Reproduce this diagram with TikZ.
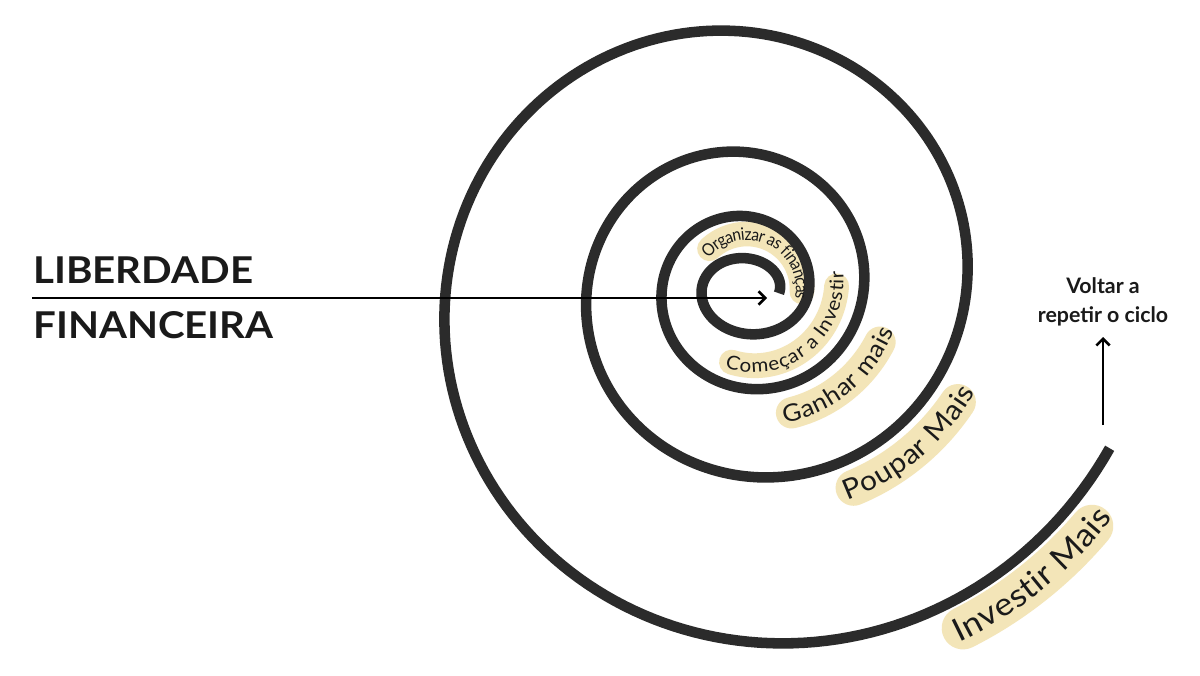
\documentclass[tikz,border=0pt]{standalone}
\usepackage{fontspec}
\setmainfont{Lato}
\newfontfamily\labfont{Lato}[FakeStretch=1.08]
\newfontfamily\orgfont{Lato}[FakeStretch=0.9]
\newfontfamily\headfont{Lato}[FakeStretch=1.09]
\usetikzlibrary{arrows.meta,decorations.text}
\definecolor{ink}{HTML}{2B2B2B}
\definecolor{bandc}{HTML}{F3E5B8}
\definecolor{txt}{HTML}{1A1A1A}
\begin{document}
\begin{tikzpicture}[x=0.75pt,y=-0.75pt,
  declare function={Rs(\t)=33*exp(0.001749*\t);},
  spiral/.style={draw=ink,line width=7.9pt,line cap=butt},
  band/.style={draw=bandc,line cap=round},
  arrowline/.style={draw=black,line width=1.9pt,-{Straight Barb[length=5pt,width=10pt]}},
  rule/.style={draw=black,line width=1.4pt},
  head/.style={font=\headfont\bfseries\fontsize{27.7pt}{30pt}\selectfont,anchor=base west,inner sep=0pt,text=txt},
  note/.style={font=\bfseries\fontsize{16pt}{18pt}\selectfont,anchor=base,inner sep=0pt,text=txt}]
\useasboundingbox (0,0) rectangle (1200,675);
\fill[white] (0,0) rectangle (1200,675);

% highlight bands
\draw[band,line width=32pt] plot[domain=1382.5:1405.5,samples=40] ({747+1.077*Rs(\x)*cos(\x)},{289-1.077*Rs(\x)*sin(\x)});
\draw[band,line width=27pt] plot[domain=1018.2:1051.8,samples=40] ({747+1.145*Rs(\x)*cos(\x)},{289-1.145*Rs(\x)*sin(\x)});
\draw[band,line width=23.5pt] plot[domain=649.8:698.2,samples=40] ({747+1.275*Rs(\x)*cos(\x)},{289-1.275*Rs(\x)*sin(\x)});
\draw[band,line width=18.6pt] plot[domain=258:362,samples=60] ({747+1.44*Rs(\x)*cos(\x)},{289-1.44*Rs(\x)*sin(\x)});
\draw[band,line width=18.5pt] plot[domain=-3:133,samples=60] ({747+55*cos(\x)},{289-55*sin(\x)});

% spiral
\draw[spiral] plot[domain=-10:1416.3,samples=800] ({747+Rs(\x)*cos(\x)},{289-Rs(\x)*sin(\x)+8*(\x<360)*sin(\x)});

% curved texts
\path[decorate,decoration={text along path,text align=center,raise=-8.4pt,text color=txt,
  text={|\labfont\fontsize{24pt}{24pt}\selectfont|Investir Mais}}]
  plot[domain=1364:1424,samples=60] ({747+1.077*Rs(\x)*cos(\x)},{289-1.077*Rs(\x)*sin(\x)});
\path[decorate,decoration={text along path,text align=center,raise=-7.3pt,text color=txt,
  text={|\labfont\fontsize{20.8pt}{20.8pt}\selectfont|Poupar Mais}}]
  plot[domain=1000:1070,samples=60] ({747+1.145*Rs(\x)*cos(\x)},{289-1.145*Rs(\x)*sin(\x)});
\path[decorate,decoration={text along path,text align=center,raise=-6.3pt,text color=txt,
  text={|\labfont\fontsize{18pt}{18pt}\selectfont|Ganhar mais}}]
  plot[domain=629:719,samples=60] ({747+1.275*Rs(\x)*cos(\x)},{289-1.275*Rs(\x)*sin(\x)});
\path[decorate,decoration={text along path,text align=center,raise=-5pt,text color=txt,
  text={|\labfont\fontsize{14.3pt}{14.3pt}\selectfont|Começar a Investir}}]
  plot[domain=230:390,samples=80] ({747+1.44*Rs(\x)*cos(\x)},{289-1.44*Rs(\x)*sin(\x)});
\path[decorate,decoration={text along path,text align=center,raise=-4.6pt,text color=txt,
  text={|\orgfont\fontsize{13pt}{13pt}\selectfont|Organizar as finanças}}]
  plot[domain=175:-45,samples=80] ({747+55*cos(\x)},{289-55*sin(\x)});

% left title and arrow
\node[head] (lib) at (33,283) {LIBERDADE};
\node[head] (fin) at (33,338) {FINANCEIRA};
\coordinate (astart) at (32,298);
\coordinate (amid) at (160,298);
\coordinate (acenter) at (767,298);
\draw[rule] (astart) -- (amid);
\draw[arrowline] (amid) -- (acenter);

% right note and arrow
\node[note] (v1) at (1103,293) {Voltar a};
\node[note] (v2) at (1103,322) {repetir o ciclo};
\coordinate (vb) at (1103,425);
\coordinate (vt) at (1103,337);
\draw[arrowline] (vb) -- (vt);
\end{tikzpicture}
\end{document}
